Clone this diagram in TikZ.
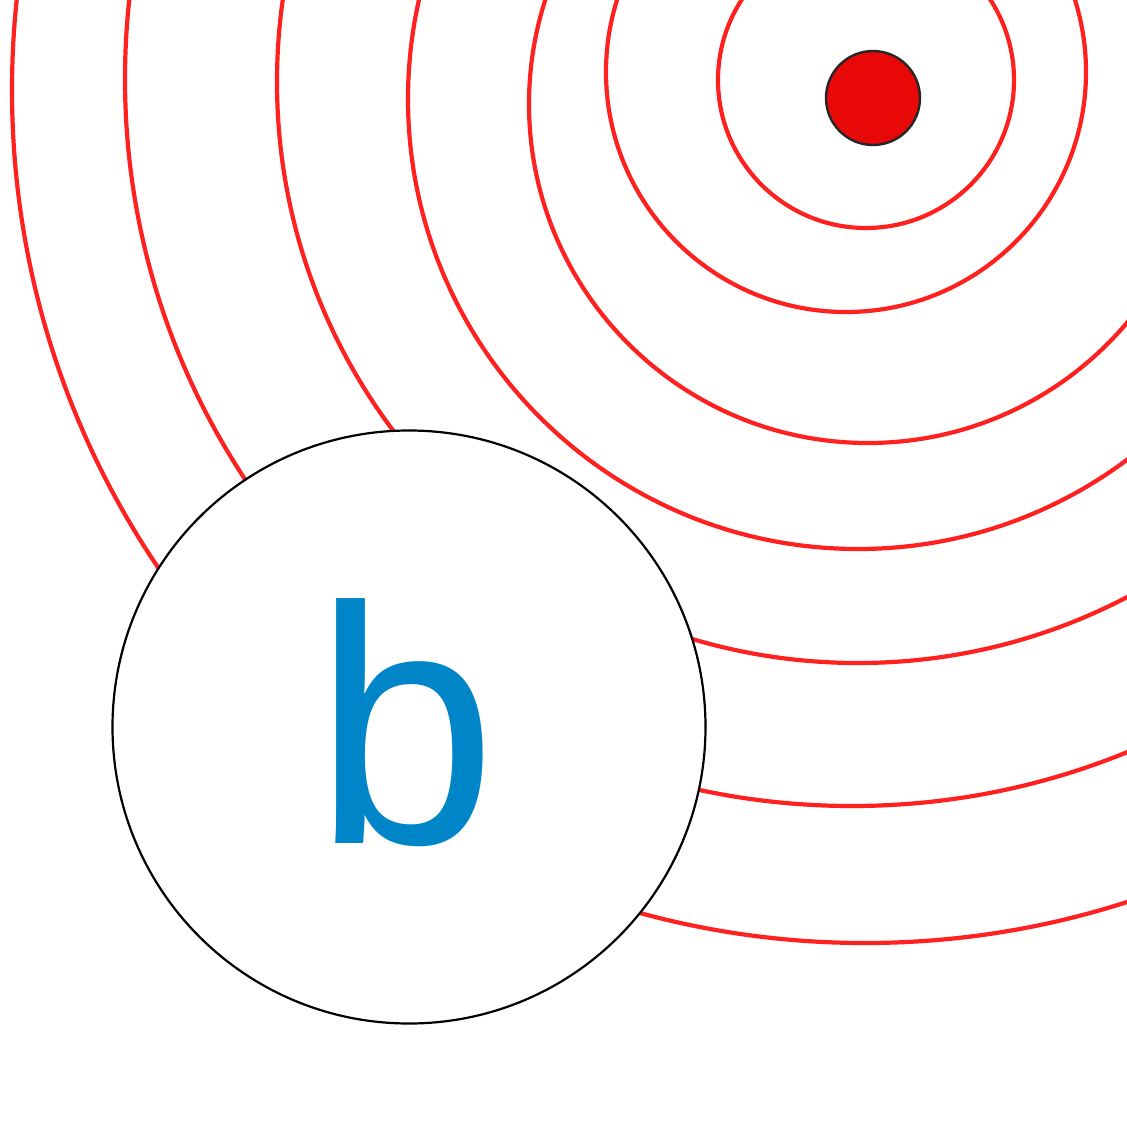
\documentclass[tikz,border=0pt]{standalone}
\usepackage{fontspec}
\setmainfont{Liberation Sans}
\definecolor{ringred}{HTML}{FF2020}
\definecolor{dotred}{HTML}{E80808}
\definecolor{letterblue}{HTML}{0085C8}
\tikzset{
  ring/.style={draw=ringred, line width=4.2pt},
  bigdisc/.style={circle, draw=black, line width=2.2pt, fill=white, minimum size=593pt, inner sep=0pt},
  dot/.style={circle, draw=black!85, line width=2.4pt, fill=dotred, minimum size=94pt, inner sep=0pt},
  letter/.style={text=letterblue, inner sep=0pt, xscale=0.97, font=\fontsize{338}{338}\selectfont}
}
\begin{document}
\begin{tikzpicture}[x=1pt, y=-1pt]
\useasboundingbox (0,0) rectangle (1127,1127);
\clip (0,0) rectangle (1127,1127);
\fill[white] (0,0) rectangle (1127,1127);
\draw[ring] (866,80) circle[radius=148pt];
\draw[ring] (846,72) circle[radius=240pt];
\draw[ring] (868,104) circle[radius=339pt];
\draw[ring] (858,99) circle[radius=450pt];
\draw[ring] (858,82) circle[radius=581pt];
\draw[ring] (852,79) circle[radius=727pt];
\draw[ring] (865,90) circle[radius=853pt];
\node[bigdisc] (big) at (409,727) {};
\node[letter, anchor=base] (lbl) at (406,843) {b};
\node[dot] (src) at (873,98) {};
\end{tikzpicture}
\end{document}
